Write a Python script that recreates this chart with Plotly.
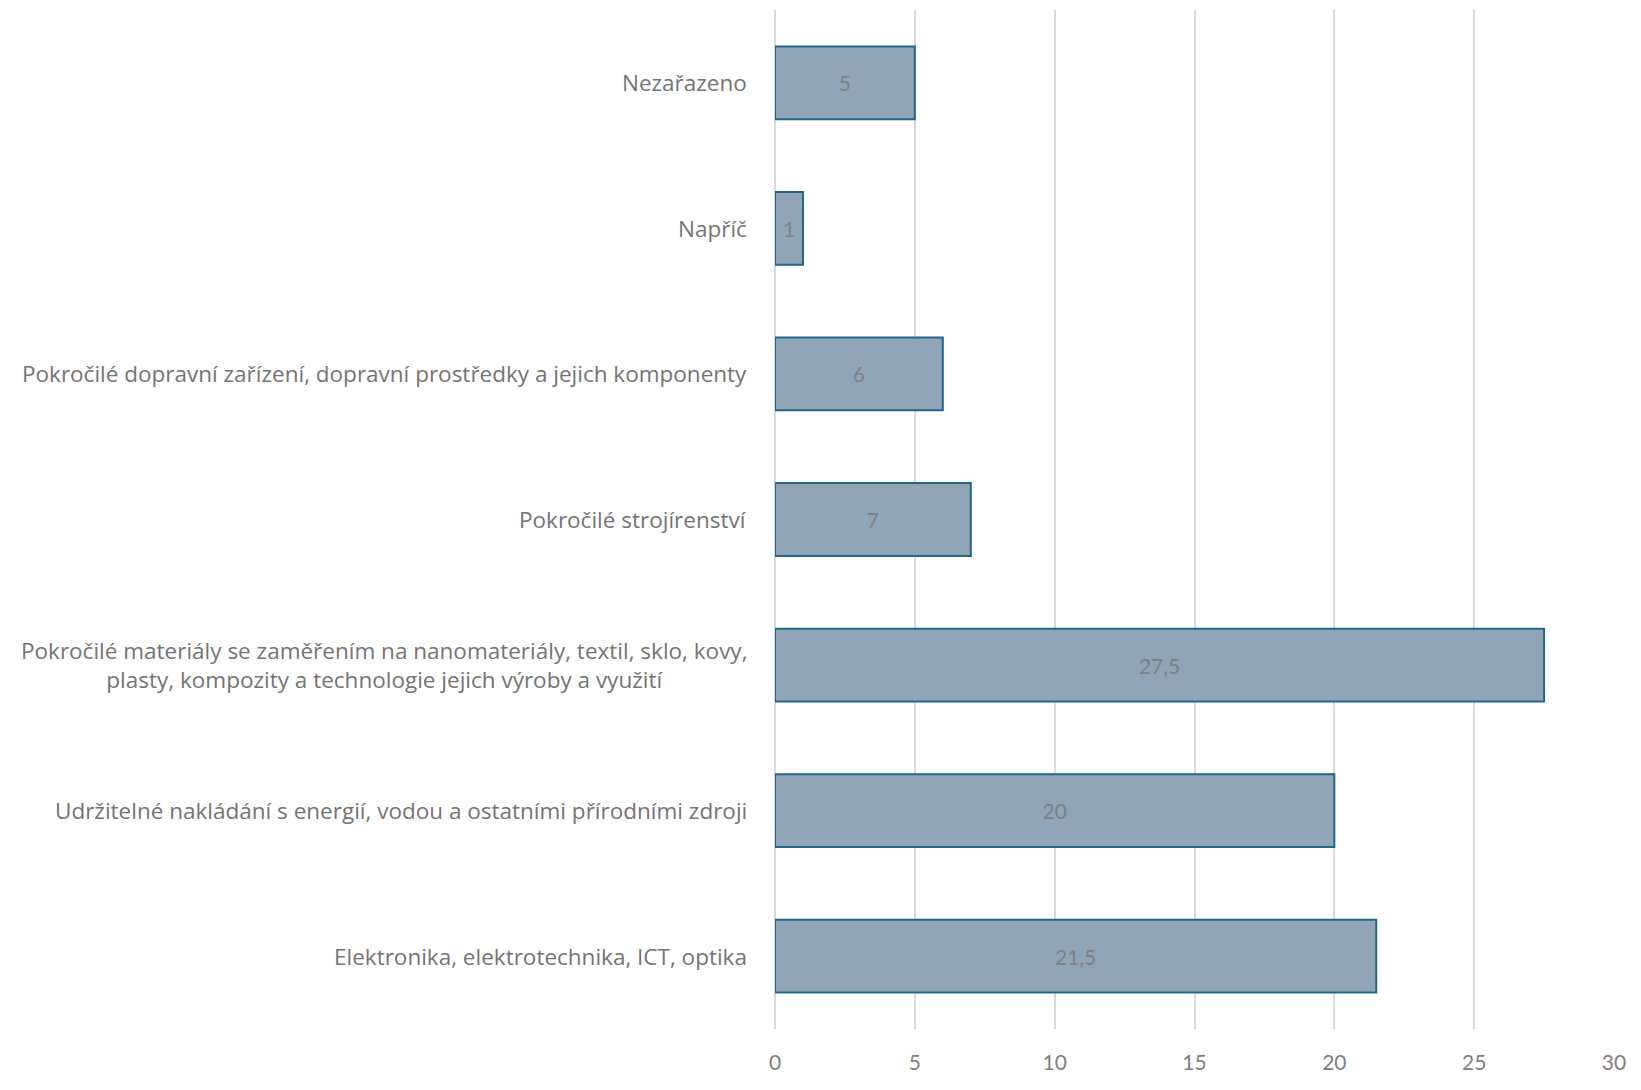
import plotly.graph_objects as go

categories = [
    "Elektronika, elektrotechnika, ICT, optika",
    "Udržitelné nakládání s energií, vodou a ostatními přírodními zdroji",
    "Pokročilé materiály se zaměřením na nanomateriály, textil, sklo, kovy,<br>plasty, kompozity a technologie jejich výroby a využití",
    "Pokročilé strojírenství",
    "Pokročilé dopravní zařízení, dopravní prostředky a jejich komponenty",
    "Napříč",
    "Nezařazeno",
]
values = [21.5, 20, 27.5, 7, 6, 1, 5]
tick_vals = [0, 5, 10, 15, 20, 25, 30]

labels = [f"{v:g}".replace(".", ",") for v in values]

fig = go.Figure(go.Bar(
    y=categories,
    x=values,
    orientation="h",
    text=labels,
    textposition="inside",
    insidetextanchor="middle",
    textfont=dict(color="#808080", size=21, family="Lato"),
    marker=dict(color="#91a5b7", line=dict(color="#24668a", width=2)),
    hoverinfo="x+y",
))

for c in categories:
    fig.add_annotation(
        x=0, y=c, xref="x", yref="y", text=c, showarrow=False,
        xanchor="right", yanchor="middle", align="center", xshift=-26,
        font=dict(family="Open Sans", size=22.5, color="#747474"),
    )

fig.update_layout(
    width=1641, height=1090,
    margin=dict(l=767, r=35, t=2, b=69),
    paper_bgcolor="white", plot_bgcolor="white",
    bargap=0.5,
    showlegend=False,
    uniformtext=dict(minsize=21, mode="show"),
    font=dict(family="Lato", color="#595959", size=20),
)
fig.update_xaxes(
    range=[0, 30], tickvals=tick_vals, showgrid=True, gridcolor="#d9d9d9", gridwidth=1.5,
    zeroline=True, zerolinecolor="#d9d9d9", zerolinewidth=1.5,
    showline=False, ticks="", ticklabelstandoff=19,
    tickfont=dict(size=21, color="#7f7f7f"),
)
fig.update_yaxes(
    type="category", categoryorder="array", categoryarray=categories,
    showgrid=False, ticks="", showticklabels=False, showline=False,
)

fig.write_html("out.html")
